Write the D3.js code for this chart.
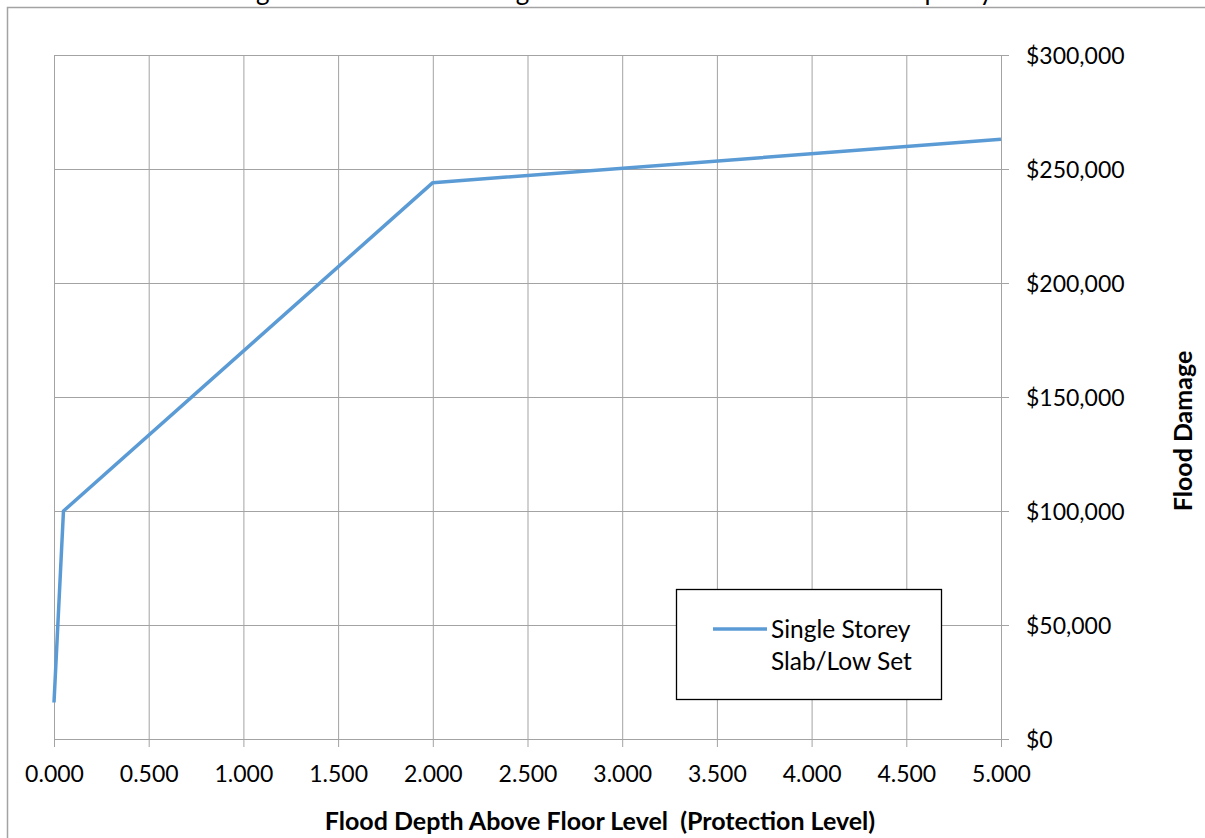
<!DOCTYPE html>
<html>
  <head>
    <meta http-equiv="Content-Type" content="text/html;charset=utf-8"/>
    <title>Flood Damages Curve</title>
    <script src="https://d3js.org/d3.v7.min.js"></script>
    <style>
      body { margin: 0; background: #fff; }
      svg { display: block; font-family: Lato, "Open Sans", sans-serif; }
    </style>
  </head>
  <body>
    <div id="chart"></div>
    <script type="text/javascript">

      // data
      const depth  = [0.0, 0.05, 2.0, 5.0]
      const damage = [16000, 100000, 244000, 263000]
      const xTicks = [0, 0.5, 1, 1.5, 2, 2.5, 3, 3.5, 4, 4.5, 5]
      const yTicks = [0, 50000, 100000, 150000, 200000, 250000, 300000]
      const seriesName = ['Single Storey', 'Slab/Low Set']
      const titleText = 'Figure 1: Flood Damages Curve for a Residential Property'
      const xTitle = 'Flood Depth Above Floor Level\u00a0\u00a0(Protection Level)'
      const yTitle = 'Flood Damage'

      const width = 1205,
            height = 838,
            plotLeft = 54, plotRight = 1001,
            plotTop = 55, plotBottom = 739,
            gridColor = '#a3a3a3'

      const svg = d3.select('#chart').append('svg')
        .attr('width', width).attr('height', height)

      svg.append('rect').attr('width', width).attr('height', height).attr('fill', '#fff')

      // chart frame (runs off the right and bottom of the window)
      svg.append('rect')
        .attr('x', 7.5).attr('y', 7.5)
        .attr('width', 1400).attr('height', 1000)
        .attr('fill', 'none').attr('stroke', gridColor).attr('stroke-width', 1.5)

      // title, clipped by the top of the window like in the original
      svg.append('text')
        .attr('x', 231).attr('y', 0)
        .attr('font-size', 26)
        .attr('textLength', 762).attr('lengthAdjust', 'spacing')
        .text(titleText)

      const x = d3.scaleLinear().domain([0, 5]).range([plotLeft, plotRight])
      const y = d3.scaleLinear().domain([0, 300000]).range([plotBottom, plotTop])

      const xAxis = d3.axisBottom(x).tickValues(xTicks).tickSize(8).tickSizeOuter(0)
        .tickFormat(d3.format('.3f'))
      const yAxis = d3.axisRight(y).tickValues(yTicks).tickSize(8).tickSizeOuter(0)
        .tickFormat(d => '$' + d3.format(',')(d))

      const gx = svg.append('g')
        .attr('transform', 'translate(0,' + plotBottom + ')')
        .call(xAxis)
      gx.select('.domain').remove()
      gx.selectAll('.tick line').attr('y1', -(plotBottom - plotTop)).attr('stroke', gridColor)
      gx.selectAll('.tick text')
        .attr('y', 43).attr('dy', 0)
        .attr('font-size', 23).attr('font-family', 'Lato').attr('fill', '#000')

      const gy = svg.append('g')
        .attr('transform', 'translate(' + plotRight + ',0)')
        .call(yAxis)
      gy.select('.domain').remove()
      gy.selectAll('.tick line').attr('x1', -(plotRight - plotLeft)).attr('stroke', gridColor)
      gy.selectAll('.tick text')
        .attr('x', 25).attr('dy', '0.35em')
        .attr('font-size', 23).attr('font-family', 'Lato').attr('fill', '#000')

      // series line
      const line = d3.line()
        .x((d, i) => x(depth[i]))
        .y(d => y(d))

      svg.append('path')
        .datum(damage)
        .attr('d', line)
        .attr('fill', 'none')
        .attr('stroke', '#5b9bd5')
        .attr('stroke-width', 3.5)
        .attr('stroke-linejoin', 'round')

      // axis titles
      svg.append('text')
        .attr('x', 600).attr('y', 830)
        .attr('text-anchor', 'middle')
        .attr('font-size', 25).attr('font-weight', 'bold')
        .text(xTitle)

      svg.append('text')
        .attr('transform', 'translate(1192,431) rotate(-90)')
        .attr('text-anchor', 'middle')
        .attr('font-size', 25).attr('font-weight', 'bold')
        .text(yTitle)

      // legend
      const legend = svg.append('g')
      legend.append('rect')
        .attr('x', 676.5).attr('y', 589.5).attr('width', 265).attr('height', 110)
        .attr('fill', '#fff').attr('stroke', '#000').attr('stroke-width', 1.3)
      legend.append('line')
        .attr('x1', 713).attr('x2', 767).attr('y1', 629).attr('y2', 629)
        .attr('stroke', '#5b9bd5').attr('stroke-width', 3.5)
      legend.selectAll('text.name')
        .data(seriesName)
        .enter().append('text')
        .attr('class', 'name')
        .attr('x', 771)
        .attr('y', (d, i) => 638 + i * 32)
        .attr('font-size', 24.5)
        .text(d => d)

    </script>
  </body>
</html>
